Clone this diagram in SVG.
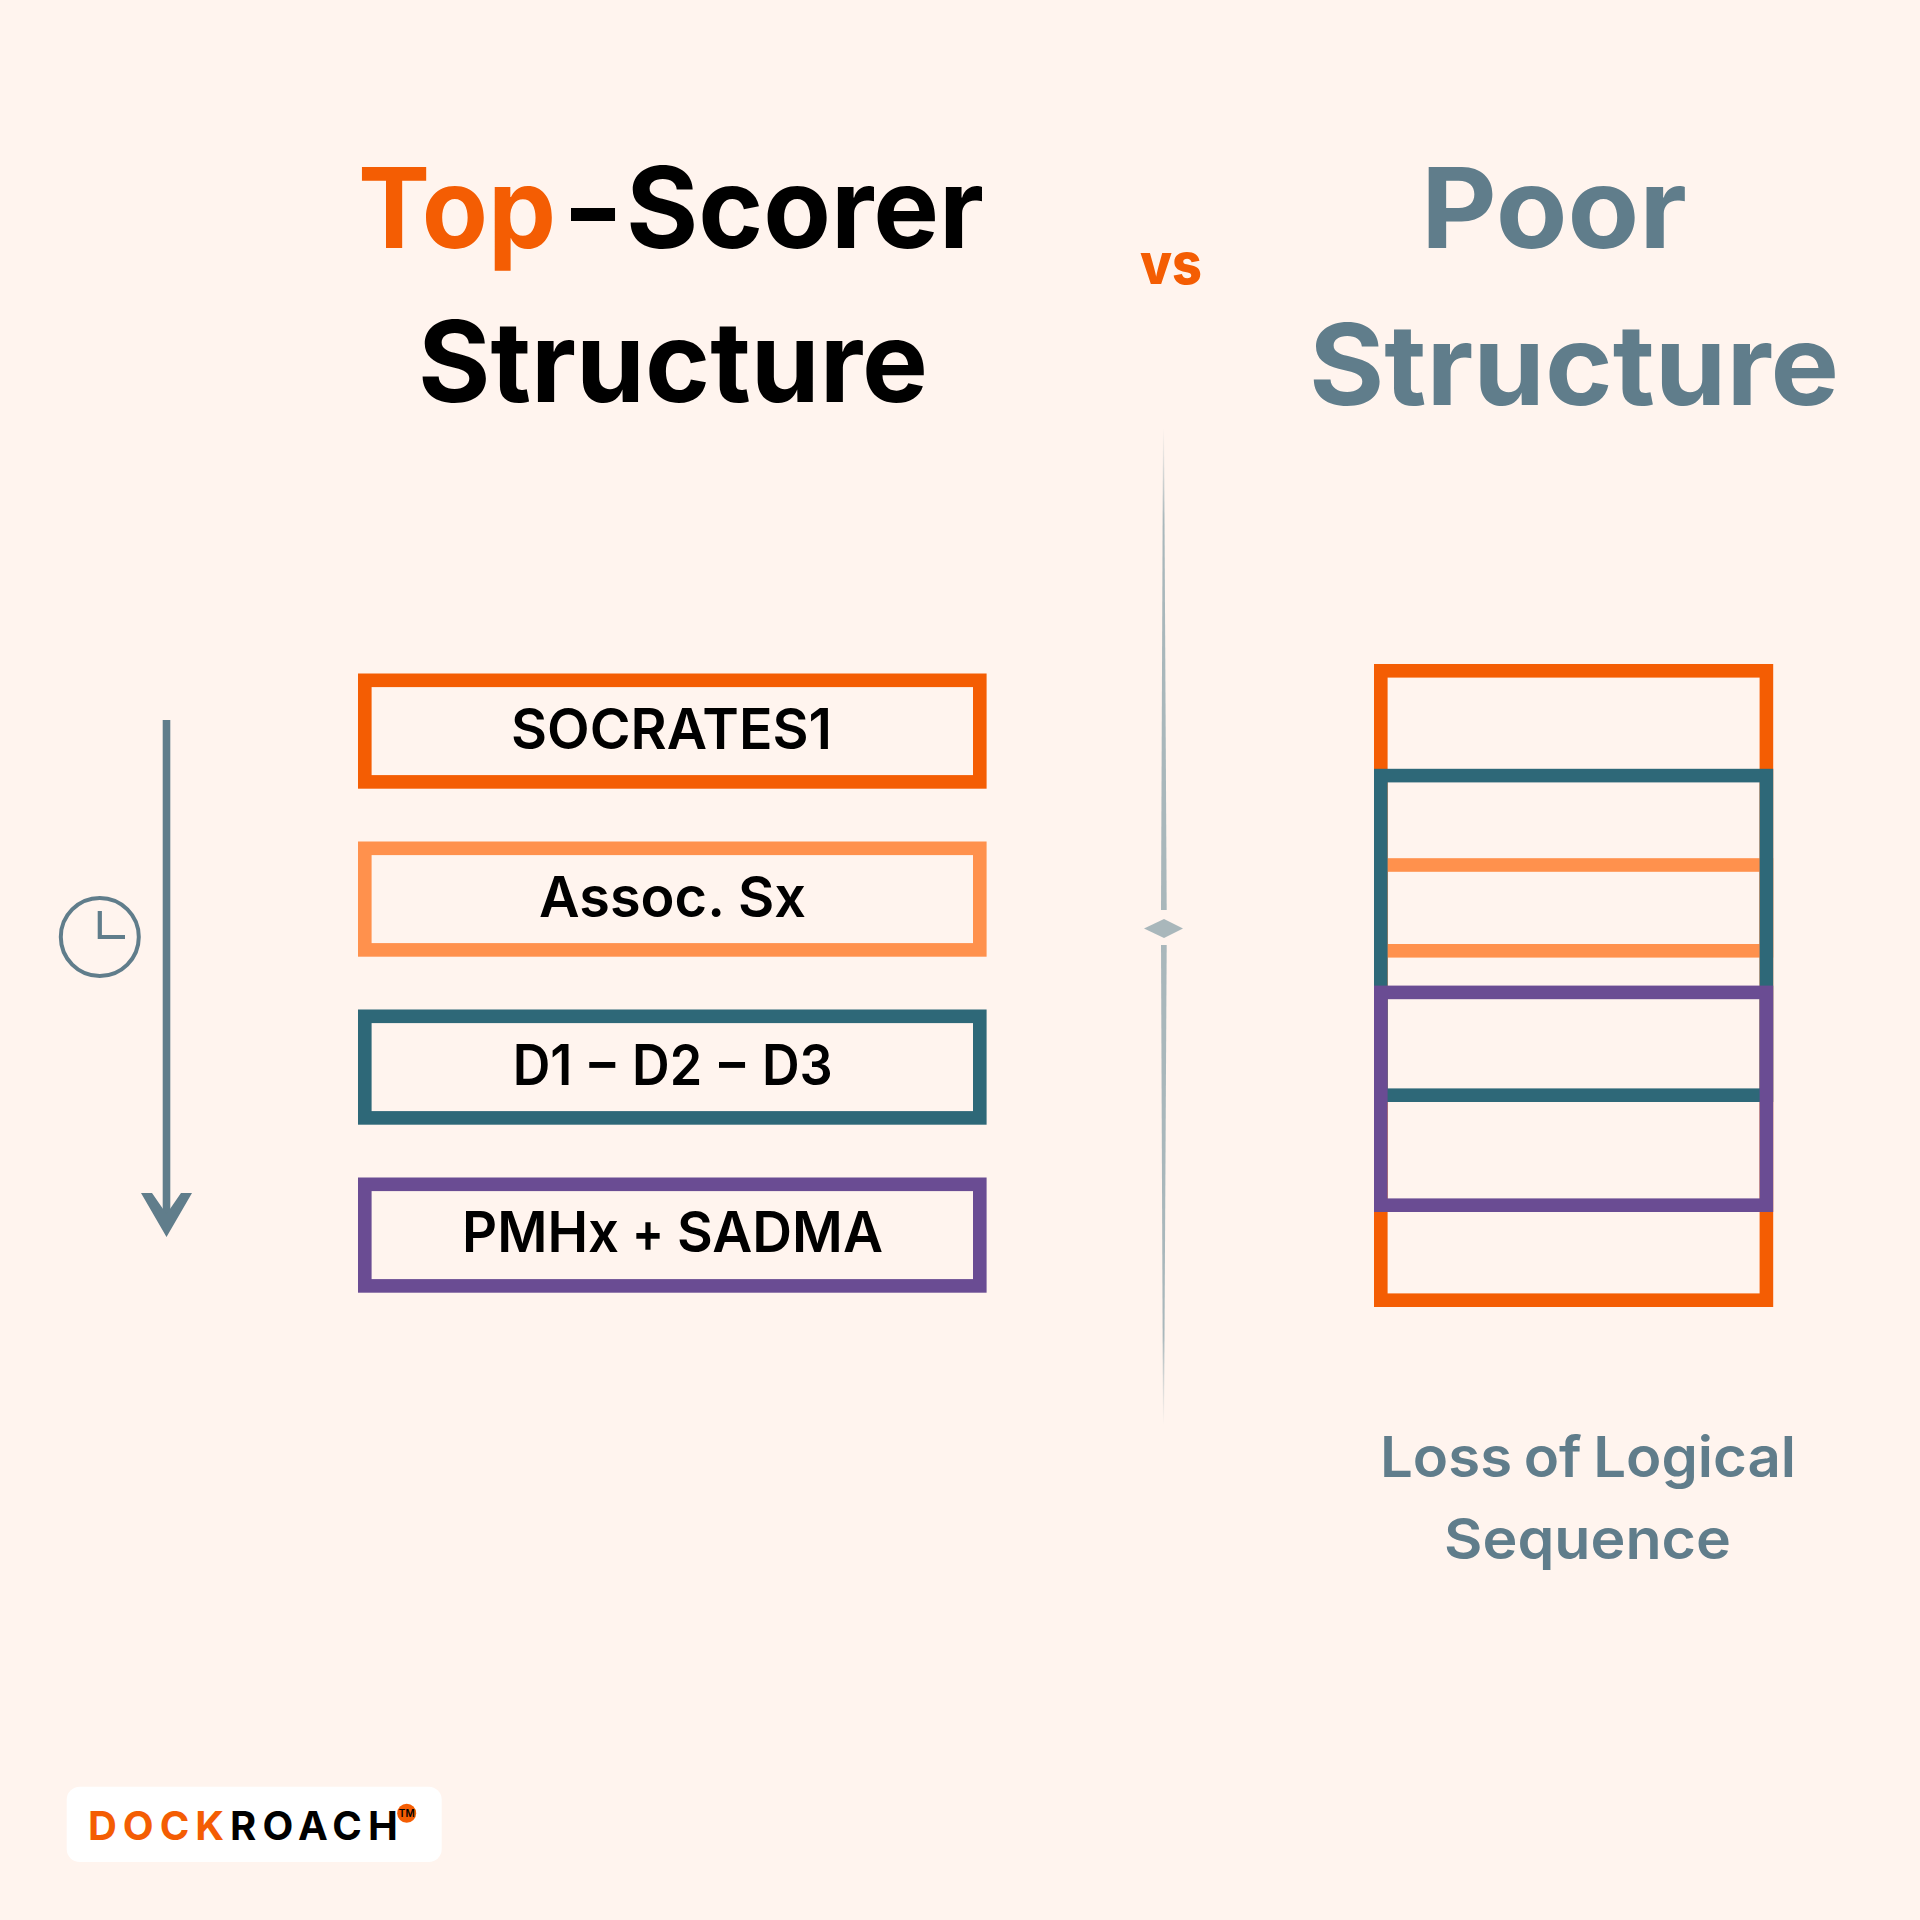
<svg xmlns="http://www.w3.org/2000/svg" width="1920" height="1920" viewBox="0 0 1920 1920">
<defs>
<linearGradient id="fadeTop" gradientUnits="userSpaceOnUse" x1="0" y1="428" x2="0" y2="520"><stop offset="0" stop-color="#a9b7bb" stop-opacity="0"/><stop offset="1" stop-color="#a9b7bb"/></linearGradient>
<linearGradient id="fadeBottom" gradientUnits="userSpaceOnUse" x1="0" y1="1425" x2="0" y2="1335"><stop offset="0" stop-color="#a9b7bb" stop-opacity="0"/><stop offset="1" stop-color="#a9b7bb"/></linearGradient>
</defs>
<style>
text{font-family:"Inter","Liberation Sans",sans-serif}
.h{font-size:112px;font-weight:700}
.b{font-size:56px;font-weight:600;fill:#000}
.s{font-size:56px;font-weight:600;fill:#607d8b}
.box{fill:none;stroke-width:13.6}
.o{stroke:#f45d03}.l{stroke:#ff914d}.t{stroke:#2e6878}.p{stroke:#6a4c93}
.logo{font-size:40px;font-weight:700}
</style>
<rect width="1920" height="1920" fill="#fff4ee"/>
<g id="title-left">
<text class="h" y="248"><tspan x="358" textLength="198" lengthAdjust="spacingAndGlyphs" fill="#f45d03">Top</tspan><tspan x="571" textLength="44" lengthAdjust="spacingAndGlyphs" fill="#000">–</tspan><tspan x="626" textLength="358" lengthAdjust="spacingAndGlyphs" fill="#000">Scorer</tspan></text>
<text class="h" x="418" y="402" fill="#000" textLength="510" lengthAdjust="spacingAndGlyphs">Structure</text>
</g>
<g id="vs"><text x="1140" y="284" font-size="57" font-weight="800" fill="#f45d03" textLength="62" lengthAdjust="spacingAndGlyphs">vs</text></g>
<g id="title-right">
<text class="h" x="1421" y="248" fill="#607d8b" textLength="266" lengthAdjust="spacingAndGlyphs">Poor</text>
<text class="h" x="1309" y="405" fill="#607d8b" textLength="530" lengthAdjust="spacingAndGlyphs">Structure</text>
</g>
<g id="divider">
<path d="M1163 428H1164L1166.7 910H1161Z" fill="url(#fadeTop)"/>
<path d="M1164 919L1183 928.5L1164 938L1144 928.5Z" fill="#a9b7bb"/>
<path d="M1161 945H1166.7L1164 1425H1163Z" fill="url(#fadeBottom)"/>
</g>
<g id="connectors">
<path d="M166.5 720V1225" stroke="#607d8b" stroke-width="7.6" fill="none"/>
<path d="M141 1193H152L166.5 1214L181 1193H192L166.5 1237Z" fill="#607d8b"/>
</g>
<g id="clock" fill="none" stroke="#607d8b">
<ellipse cx="99.8" cy="937" rx="39" ry="39" stroke-width="4"/>
<path d="M99.8 911V937H125" stroke-width="4.2"/>
</g>
<g id="node-socrates"><rect class="box o" x="364.8" y="680.3" width="615" height="101.6"/><text class="b" x="511" y="748.5" textLength="321" lengthAdjust="spacingAndGlyphs">SOCRATES1</text></g>
<g id="node-assoc"><rect class="box l" x="364.8" y="848.3" width="615" height="101.6"/><text class="b" x="539" y="917" textLength="267" lengthAdjust="spacingAndGlyphs">Assoc. Sx</text></g>
<g id="node-d"><rect class="box t" x="364.8" y="1016.3" width="615" height="101.6"/><text class="b" x="512.7" y="1085" word-spacing="4" textLength="320" lengthAdjust="spacingAndGlyphs">D1 – D2 – D3</text></g>
<g id="node-pmhx"><rect class="box p" x="364.8" y="1184.3" width="615" height="101.6"/><text class="b" y="1252"><tspan x="462" textLength="157" lengthAdjust="spacingAndGlyphs">PMHx</tspan> <tspan x="632" textLength="32" lengthAdjust="spacingAndGlyphs">+</tspan> <tspan x="677" textLength="206" lengthAdjust="spacingAndGlyphs">SADMA</tspan></text></g>
<g id="stack">
<rect class="box o" x="1380.8" y="670.8" width="385.6" height="629.4"/>
<rect class="box l" x="1380.8" y="865" width="385.6" height="85.8"/>
<rect class="box t" x="1380.8" y="775.6" width="385.6" height="319.6"/>
<rect class="box p" x="1380.8" y="992.4" width="385.6" height="212.8"/>
</g>
<g id="caption">
<text class="s" x="1380" y="1477" word-spacing="-3" textLength="416" lengthAdjust="spacingAndGlyphs">Loss of Logical</text>
<text class="s" x="1444" y="1559" textLength="287" lengthAdjust="spacingAndGlyphs">Sequence</text>
</g>
<g id="logo">
<rect x="66.7" y="1786.7" width="375" height="75.3" rx="13" fill="#fff"/>
<text class="logo" x="88" y="1840" fill="#f45d03" textLength="136" lengthAdjust="spacing">DOCK</text>
<text class="logo" x="230" y="1840" fill="#000" textLength="168" lengthAdjust="spacing">ROACH</text>
<circle cx="406.7" cy="1813.3" r="9.5" fill="#f45d03"/>
<text x="406.7" y="1817" font-size="10" font-weight="600" fill="#000" text-anchor="middle">TM</text>
</g>
</svg>
